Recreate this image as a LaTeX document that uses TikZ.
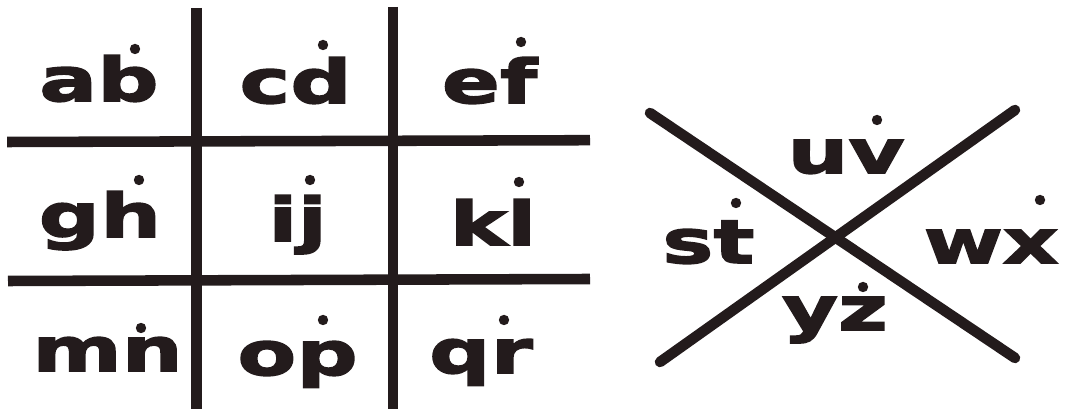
\documentclass[tikz,border=0pt]{standalone}
\usepackage{fontspec}
\setmainfont{DejaVu Sans}
\newfontfamily\cipherfont{DejaVu Sans Bold}[FakeStretch=1.42, FakeBold=2.6]
\usepackage{tikz}
\usetikzlibrary{positioning, calc}

\definecolor{ink}{HTML}{231B1C}

\begin{document}
\begin{tikzpicture}[
  bar/.style={draw=ink, line width=7.5pt},
  cross/.style={draw=ink, line width=7.5pt, line cap=round},
  pair/.style={anchor=base, inner sep=0pt, text=ink,
               font=\cipherfont\fontsize{43}{43}\selectfont}
]
  \useasboundingbox (0,0) rectangle (26.925,10.225);

  % Grid (tic-tac-toe) lines
  \coordinate (v1t) at (4.91,10.03);  \coordinate (v1b) at (4.91,0);
  \coordinate (v2t) at (9.83,10.05);  \coordinate (v2b) at (9.83,0);
  \coordinate (h1l) at (0.18,6.675);  \coordinate (h1r) at (14.75,6.72);
  \coordinate (h2l) at (0.20,3.20);   \coordinate (h2r) at (14.75,3.25);
  \draw[bar] (v1t) -- (v1b);
  \draw[bar] (v2t) -- (v2b);
  \draw[bar] (h1l) -- (h1r);
  \draw[bar] (h2l) -- (h2r);

  % X lines
  \coordinate (x1a) at (16.25,7.40);  \coordinate (x1b) at (25.375,1.275);
  \coordinate (x2a) at (25.375,7.475); \coordinate (x2b) at (16.50,1.175);
  \draw[cross] (x1a) -- (x1b);
  \draw[cross] (x2a) -- (x2b);

  % Letter pairs, each with its dot
  \foreach \name/\txt/\x/\y/\dx/\dy in {
      ab/ab/2.475/7.70/3.375/9.0,
      cd/cd/7.39/7.65/8.075/9.10,
      ef/ef/12.24/7.65/13.025/9.175,
      gh/gh/2.50/4.30/3.475/5.725,
      ij/ij/7.44/4.20/7.75/5.725,
      kl/kl/12.325/4.10/12.975/5.675,
      mn/mn/2.69/0.95/3.525/2.025,
      op/op/7.44/0.85/8.075/2.225,
      qr/qr/12.025/0.90/12.60/2.225,
      uv/uv/21.15/5.90/21.925/7.225,
      st/st/17.71/3.65/18.40/5.15,
      wx/wx/24.775/3.65/26.00/5.225,
      yz/yz/20.875/1.975/21.575/3.05}{
    \node[pair] (\name) at (\x,\y) {\txt};
    \fill[ink] (\dx,\dy) circle (0.13);
  }
\end{tikzpicture}
\end{document}
